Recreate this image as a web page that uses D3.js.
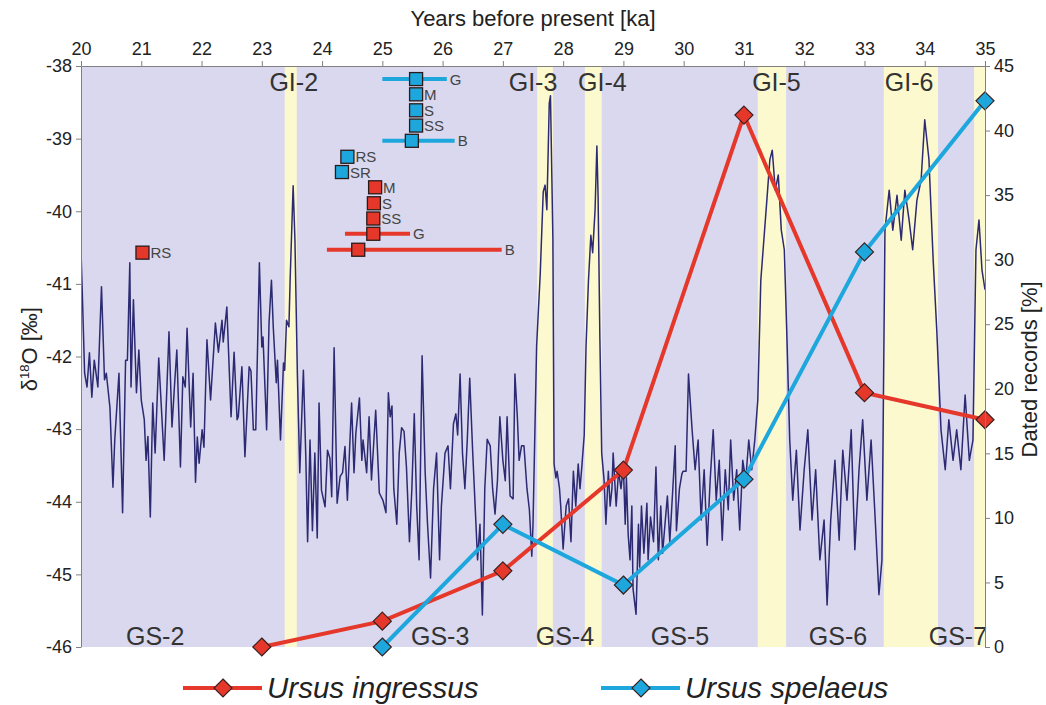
<!DOCTYPE html>
<html><head><meta charset="utf-8">
<script src="https://cdn.jsdelivr.net/npm/d3@7"></script>
<style>body{margin:0;background:#fff;} svg{display:block;font-family:"Liberation Sans",Arial,Helvetica,sans-serif;}</style>
</head><body><svg id="c" width="1046" height="705"></svg>
<script>
// ---------- data ----------
const ageTicks = [20,21,22,23,24,25,26,27,28,29,30,31,32,33,34,35];
const d18OTicks = [-38,-39,-40,-41,-42,-43,-44,-45,-46];
const pctTicks = [0,5,10,15,20,25,30,35,40,45];

const giLabels = ["GI-2","GI-3","GI-4","GI-5","GI-6",""];
const giStart  = [23.38,27.57,28.36,31.23,33.32,34.82];
const giEnd    = [23.58,27.83,28.64,31.70,34.22,35.00];
const giLabelAge = [23.53,27.50,28.65,31.54,33.74,null];
const gsLabels = ["GS-2","GS-3","GS-4","GS-5","GS-6","GS-7"];
const gsLabelAge = [21.23,25.96,28.03,29.94,32.56,34.55];

const curveAge = [20.00,20.02,20.06,20.10,20.14,20.18,20.22,20.28,20.34,20.39,20.42,20.48,20.53,20.56,20.63,20.69,20.74,20.77,20.81,20.83,20.87,20.92,20.96,21.00,21.05,21.08,21.11,21.15,21.19,21.23,21.29,21.38,21.46,21.51,21.55,21.59,21.65,21.69,21.73,21.76,21.82,21.86,21.90,21.93,21.96,22.01,22.04,22.09,22.15,22.23,22.28,22.34,22.36,22.42,22.49,22.54,22.59,
22.61,22.67,22.72,22.79,22.82,22.86,22.90,22.96,23.00,23.02,23.08,23.12,23.16,23.19,23.24,23.26,23.31,23.36,23.38,23.41,23.45,23.47,23.52,23.55,23.59,23.63,23.69,23.73,23.76,23.80,23.84,23.88,23.92,23.95,23.99,24.05,24.09,24.13,24.16,24.20,24.25,24.30,24.34,24.38,24.42,24.49,24.53,24.56,24.62,24.66,24.68,24.74,24.78,24.82,24.89,24.95,25.01,25.06,25.10,
25.13,25.16,25.19,25.24,25.28,25.32,25.36,25.40,25.45,25.49,25.53,25.57,25.61,25.66,25.71,25.75,25.80,25.85,25.90,25.95,25.98,26.04,26.09,26.13,26.18,26.22,26.25,26.29,26.33,26.37,26.41,26.45,26.50,26.54,26.58,26.62,26.66,26.70,26.74,26.79,26.83,26.87,26.91,26.95,27.00,27.04,27.07,27.12,27.17,27.20,27.24,27.27,27.31,27.35,27.40,27.44,27.48,
27.50,27.56,27.62,27.67,27.70,27.73,27.77,27.79,27.83,27.85,27.88,27.90,27.94,27.96,28.00,28.05,28.09,28.13,28.17,28.21,28.25,28.28,28.31,28.35,28.38,28.42,28.46,28.49,28.53,28.56,28.58,28.61,28.64,28.68,28.71,28.75,28.78,28.81,28.83,28.88,28.92,28.96,29.00,29.03,29.05,29.08,29.11,29.14,29.16,29.21,29.25,29.27,29.30,29.34,29.39,29.41,29.45,29.50,29.54,29.58,29.62,29.65,29.69,29.73,29.77,29.82,29.86,29.88,29.93,29.97,29.99,30.04,30.08,
30.14,30.19,30.24,30.29,30.34,30.39,30.44,30.49,30.54,30.59,30.64,30.69,30.74,30.78,30.83,30.88,30.93,30.98,31.03,31.08,31.13,31.18,31.23,31.28,31.33,31.38,31.43,31.47,31.52,31.57,31.62,31.67,31.71,31.76,31.81,31.87,31.93,32.00,32.06,32.13,32.19,32.26,32.33,32.38,32.44,32.51,32.58,32.64,32.71,32.78,32.84,32.91,32.97,33.04,33.11,33.17,33.24,33.29,33.34,33.41,33.47,33.54,33.61,33.67,33.74,33.80,33.87,33.94,34.00,34.07,34.14,34.20,34.27,34.34,34.40,34.47,34.53,34.60,34.67,34.74,34.80,34.85,34.90,34.95,35.00];
const curveD18O = [-40.55,-41.08,-42.23,-42.42,-41.95,-42.56,-42.05,-42.42,-41.04,-42.32,-42.23,-42.70,-43.80,-43.15,-42.23,-44.15,-42.05,-42.05,-40.71,-42.42,-41.22,-42.50,-41.91,-42.60,-42.87,-43.43,-43.10,-44.21,-42.64,-43.33,-42.02,-43.43,-41.66,-42.97,-42.42,-41.91,-43.52,-42.28,-42.42,-41.61,-42.97,-42.23,-43.73,-43.11,-43.47,-43.01,-43.25,-41.77,-42.60,-41.54,-41.94,-41.50,-41.80,-41.32,-42.83,-41.94,-42.87,
-42.83,-42.14,-43.38,-42.14,-42.20,-43.01,-43.01,-40.71,-41.87,-41.73,-43.01,-41.54,-40.95,-41.59,-42.36,-42.05,-43.15,-42.09,-42.19,-41.50,-41.59,-40.95,-39.65,-40.40,-42.23,-43.60,-42.19,-43.38,-44.55,-43.15,-44.40,-43.33,-44.50,-42.64,-43.84,-44.07,-43.29,-43.40,-43.93,-41.88,-44.02,-43.65,-43.60,-43.24,-43.98,-42.64,-43.60,-43.06,-42.57,-43.43,-43.15,-43.60,-42.83,-43.70,-42.74,-43.88,-43.98,-44.15,-42.50,
-42.83,-42.68,-43.82,-44.31,-43.33,-42.98,-43.03,-43.52,-44.55,-43.82,-42.79,-44.06,-44.80,-41.99,-43.58,-44.31,-45.05,-43.82,-43.33,-44.80,-44.06,-43.33,-43.23,-43.82,-42.93,-42.79,-43.08,-42.24,-43.33,-43.82,-43.14,-42.30,-43.33,-44.06,-44.80,-44.31,-45.56,-43.82,-43.14,-43.23,-43.82,-44.17,-43.71,-42.83,-43.43,-43.71,-42.83,-43.92,-43.96,-42.24,-42.83,-43.43,-43.23,-43.23,-43.82,-44.11,-44.75,
-44.31,-41.86,-40.86,-39.73,-39.64,-39.98,-38.51,-38.41,-40.38,-43.48,-43.67,-43.58,-43.82,-44.06,-44.65,-44.06,-43.96,-44.55,-43.58,-44.06,-43.48,-43.82,-43.52,-43.08,-41.86,-40.96,-40.33,-40.57,-39.98,-39.10,-39.79,-41.76,-43.33,-43.71,-44.31,-43.58,-44.06,-43.82,-43.33,-44.06,-43.58,-43.82,-43.52,-44.31,-43.67,-44.46,-44.80,-44.06,-45.20,-45.55,-44.31,-44.90,-44.06,-44.71,-44.02,-44.80,-44.21,-44.55,-43.52,-44.80,-44.06,-44.71,-44.31,-43.92,-44.55,-43.82,-43.23,-44.40,-43.82,-43.62,-43.58,-43.58,-42.24,
-43.01,-43.56,-43.15,-44.25,-43.56,-44.60,-43.70,-43.01,-43.98,-43.43,-44.53,-43.56,-44.11,-43.15,-43.98,-43.56,-44.39,-43.43,-43.70,-43.15,-43.56,-43.15,-42.60,-40.95,-40.40,-39.85,-39.29,-39.16,-39.71,-39.50,-40.26,-40.53,-41.64,-43.15,-43.98,-43.29,-44.39,-43.56,-43.01,-44.25,-43.56,-44.80,-44.25,-45.42,-44.25,-43.43,-44.53,-43.29,-43.98,-43.01,-44.66,-43.56,-42.87,-43.98,-43.15,-44.11,-45.28,-44.80,-40.26,-39.71,-40.26,-39.78,-40.40,-39.71,-40.12,-40.53,-39.85,-39.57,-38.74,-39.29,-40.67,-41.64,-43.01,-43.56,-42.87,-43.43,-43.01,-43.56,-42.53,-43.43,-43.15,-40.53,-40.12,-40.81,-41.08];

const seriesAges = [23,25,27,29,31,33,35];
const ingressusPct = [0,2.0,5.9,13.7,41.2,19.7,17.6];
const spelaeusAges = [25,27,29,31,33,35];
const spelaeusPct = [0,9.5,4.8,13.0,30.6,42.3];

const datingLabels  = ["G","M","S","SS","B","RS","SR","M","S","SS","G","B","RS"];
const datingSpecies = ["sp","sp","sp","sp","sp","sp","sp","in","in","in","in","in","in"];
const datingAge     = [25.56,25.56,25.56,25.56,25.49,24.42,24.33,24.88,24.86,24.85,24.85,24.60,21.02];
const datingMin     = [25.00,null,null,null,25.00,null,null,null,null,null,24.38,24.08,null];
const datingMax     = [26.07,null,null,null,26.20,null,null,null,null,null,25.46,26.98,null];
const datingLevel   = [-38.18,-38.39,-38.61,-38.82,-39.03,-39.25,-39.46,-39.67,-39.89,-40.10,-40.31,-40.53,-40.57];

// ---------- layout ----------
const W = 1046, H = 705;
const M = {l:81, t:66, r:61, b:58};
const RED = "#e5382b", BLUE = "#1ea7dd", LAV = "#d9d8ee", YEL = "#fdf9cf";
const svg = d3.select("#c");
const x = d3.scaleLinear().domain([20,35]).range([M.l, W-M.r]);
const yL = d3.scaleLinear().domain([-38,-46]).range([M.t, H-M.b]);
const yR = d3.scaleLinear().domain([45,0]).range([M.t, H-M.b]);

svg.append("defs").append("clipPath").attr("id","plot")
  .append("rect").attr("x",x(20)).attr("y",yL(-38)).attr("width",x(35)-x(20)).attr("height",yL(-46)-yL(-38));

// background + bands
svg.append("rect").attr("x",x(20)).attr("y",yL(-38)).attr("width",x(35)-x(20)).attr("height",yL(-46)-yL(-38)).attr("fill",LAV);
svg.append("g").selectAll("rect").data(giStart).join("rect")
  .attr("x",(d)=>x(d)).attr("y",yL(-38))
  .attr("width",(d,i)=>x(giEnd[i])-x(d)).attr("height",yL(-46)-yL(-38)).attr("fill",YEL);

// δ18O curve
const pts = curveAge.map((a,i)=>[a,curveD18O[i]]);
svg.append("path").datum(pts).attr("clip-path","url(#plot)")
  .attr("d",d3.line().x(d=>x(d[0])).y(d=>yL(d[1])))
  .attr("fill","none").attr("stroke","#2c2a72").attr("stroke-width",1.5).attr("stroke-linejoin","round");

// band labels
svg.append("g").selectAll("text").data(giLabels.filter(d=>d)).join("text")
  .attr("x",(d,i)=>x(giLabelAge[i])).attr("y",yL(-38)+25)
  .attr("text-anchor","middle").attr("font-size",25).attr("fill","#333").text(d=>d);
svg.append("g").selectAll("text").data(gsLabels).join("text")
  .attr("x",(d,i)=>x(gsLabelAge[i])).attr("y",yL(-46)-2)
  .attr("text-anchor","middle").attr("font-size",25).attr("fill","#333").text(d=>d);

// dating squares
const dg = svg.append("g");
datingLabels.forEach((lab,i)=>{
  const col = datingSpecies[i]==="sp" ? BLUE : RED;
  const yy = yL(datingLevel[i]);
  if (datingMin[i]!==null){
    dg.append("line").attr("x1",x(datingMin[i])).attr("x2",x(datingMax[i])).attr("y1",yy).attr("y2",yy)
      .attr("stroke",col).attr("stroke-width",4);
  }
  dg.append("rect").attr("x",x(datingAge[i])-6.5).attr("y",yy-6.5).attr("width",13).attr("height",13)
    .attr("fill",col).attr("stroke","#2a1a1a").attr("stroke-width",1.3);
  const tx = datingMax[i]!==null ? x(datingMax[i])+3 : x(datingAge[i])+8;
  dg.append("text").attr("x",tx).attr("y",yy+5.5).attr("font-size",15).attr("fill","#444").text(lab);
});

// series
function diamond(g, cx, cy, col, r){
  g.append("path").attr("d",`M${cx},${cy-r}L${cx+r},${cy}L${cx},${cy+r}L${cx-r},${cy}Z`)
    .attr("fill",col).attr("stroke","#3a2020").attr("stroke-width",1.2);
}
const lineR = d3.line().x(d=>x(d[0])).y(d=>yR(d[1]));
const ing = seriesAges.map((a,i)=>[a,ingressusPct[i]]);
const spe = spelaeusAges.map((a,i)=>[a,spelaeusPct[i]]);
svg.append("path").datum(ing).attr("d",lineR).attr("fill","none").attr("stroke",RED).attr("stroke-width",4);
svg.append("path").datum(spe).attr("d",lineR).attr("fill","none").attr("stroke",BLUE).attr("stroke-width",4);
const mg = svg.append("g");
ing.forEach(d=>diamond(mg,x(d[0]),yR(d[1]),RED,9));
spe.forEach(d=>diamond(mg,x(d[0]),yR(d[1]),BLUE,9));

// axes
const ax = svg.append("g").attr("transform",`translate(0,${M.t})`)
  .call(d3.axisTop(x).tickValues(ageTicks).tickFormat(d3.format("d")).tickSize(5).tickSizeOuter(0).tickPadding(6));
const al = svg.append("g").attr("transform",`translate(${M.l},0)`)
  .call(d3.axisLeft(yL).tickValues(d18OTicks).tickFormat(d3.format("d")).tickSize(5).tickSizeOuter(0).tickPadding(4));
const ar = svg.append("g").attr("transform",`translate(${W-M.r},0)`)
  .call(d3.axisRight(yR).tickValues(pctTicks).tickFormat(d3.format("d")).tickSize(5).tickSizeOuter(0).tickPadding(4));
[ax,al,ar].forEach(g=>{
  g.select(".domain").attr("stroke","#808080");
  g.selectAll(".tick line").attr("stroke","#808080");
  g.selectAll(".tick text").attr("font-size",18).attr("fill","#222").attr("font-family","Liberation Sans, Arial, sans-serif");
});
al.selectAll(".tick text").text(d=>d<0?"-"+Math.abs(d):d);

// titles
svg.append("text").attr("x",(x(20)+x(35))/2).attr("y",26).attr("text-anchor","middle")
  .attr("font-size",22).attr("fill","#222").text("Years before present [ka]");
const tl = svg.append("text").attr("transform",`translate(37,${yL(-41.9)}) rotate(-90)`)
  .attr("text-anchor","middle").attr("font-size",22).attr("fill","#222");
tl.append("tspan").text("δ");
tl.append("tspan").attr("font-size",13).attr("dy",-8).text("18");
tl.append("tspan").attr("dy",8).text("O [‰]");
svg.append("text").attr("transform",`translate(1037,${yR(21.5)}) rotate(-90)`)
  .attr("text-anchor","middle").attr("font-size",22).attr("fill","#222").text("Dated records [%]");

// legend
const lg = svg.append("g");
const legendItems = [{name:"Ursus ingressus", col:RED, x0:183},{name:"Ursus spelaeus", col:BLUE, x0:601}];
legendItems.forEach(it=>{
  lg.append("line").attr("x1",it.x0).attr("x2",it.x0+79).attr("y1",688).attr("y2",688).attr("stroke",it.col).attr("stroke-width",4);
  diamond(lg,it.x0+40,688,it.col,9);
  lg.append("text").attr("x",it.x0+84).attr("y",698).attr("font-size",29.5).attr("font-style","italic").attr("fill","#222").text(it.name);
});
</script></body></html>
